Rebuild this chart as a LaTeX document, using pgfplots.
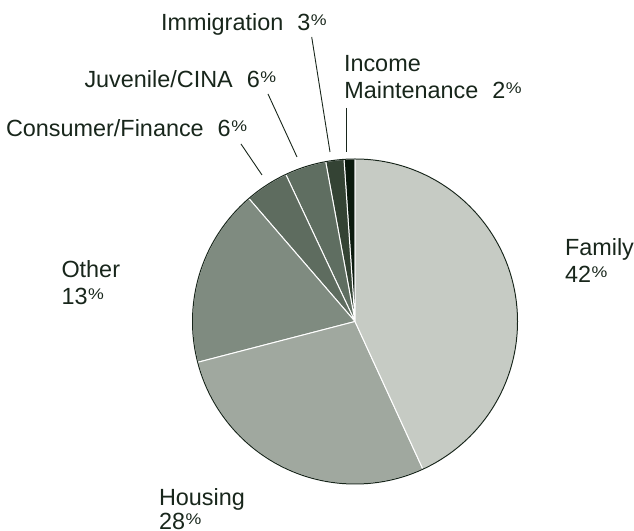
\documentclass[border=0pt]{standalone}
\usepackage{fontspec}
\setmainfont{Liberation Sans}
\usepackage{graphicx}
\usepackage{pgfplots}
\usepackage{pgfplotstable}
\pgfplotsset{compat=1.18}

\definecolor{ink}{HTML}{18261B}
\definecolor{slice0}{HTML}{0B1A0E} % Income Maintenance
\definecolor{slice1}{HTML}{344334} % Immigration
\definecolor{slice2}{HTML}{5F6E61} % Juvenile/CINA
\definecolor{slice3}{HTML}{5E6C5F} % Consumer/Finance
\definecolor{slice4}{HTML}{7F8B80} % Other
\definecolor{slice5}{HTML}{A0A89F} % Housing
\definecolor{slice6}{HTML}{C6CBC4} % Family

% drawn share of each slice (counter-clockwise from 12 o'clock) and printed label
\pgfplotstableread{
name         share  label
Income       1.08   2
Immigration  1.81   3
Juvenile     4.11   6
Consumer     4.33   6
Other        17.71  13
Housing      27.82  28
Family       43.14  42
}\slices

\newcommand{\pct}{\hspace{0.5bp}\raisebox{5.2bp}{\scalebox{1.15}[1.0]{\fontsize{15.5}{15.5}\selectfont\%}}}
\tikzset{lbl/.style={inner sep=0pt, outer sep=0pt, text=ink,
    font=\fontsize{23.5}{27}\selectfont, anchor=base west}}

\begin{document}
\begin{tikzpicture}
\begin{axis}[
  width=634bp, height=531bp,
  scale only axis,
  hide axis,
  clip=false,
  xmin=0, xmax=634,
  ymin=0, ymax=531,
]
  % slices
  \def\angA{90}
  \pgfplotsforeachungrouped \i in {0,...,6}{%
    \pgfplotstablegetelem{\i}{share}\of\slices
    \pgfmathsetmacro\angB{\angA+3.6*\pgfplotsretval}%
    \edef\cmd{\noexpand\fill[slice\i, draw=white, line width=1pt]
      (axis cs:355,209.5) -- ++(\angA:162.5bp)
      arc[start angle=\angA, end angle=\angB, radius=162.5bp] -- cycle;}%
    \cmd
    \global\let\angA\angB
  }
  \draw[ink, line width=1pt] (axis cs:355,209.5) circle[radius=162.5bp];

  % leader lines
  \draw[ink, line width=0.9pt] (axis cs:241,387) -- (axis cs:262,356);
  \draw[ink, line width=0.9pt] (axis cs:268,437) -- (axis cs:297,374);
  \draw[ink, line width=0.9pt] (axis cs:311.7,494) -- (axis cs:330,379);
  \draw[ink, line width=0.9pt] (axis cs:346.7,423) -- (axis cs:346.7,379);

  % labels
  \node[lbl] at (axis cs:161,500.3) {Immigration\hspace{14bp}3\pct};
  \node[lbl] at (axis cs:84.5,443) {Juvenile/CINA\hspace{14bp}6\pct};
  \node[lbl] at (axis cs:6,394) {Consumer/Finance\hspace{14bp}6\pct};
  \node[lbl] at (axis cs:344,459) {Income};
  \node[lbl] at (axis cs:344.3,432) {Maintenance\hspace{14bp}2\pct};
  \node[lbl] at (axis cs:61.5,253) {Other};
  \node[lbl] at (axis cs:61.5,226) {13\pct};
  \node[lbl] at (axis cs:565,275) {Family};
  \node[lbl] at (axis cs:565,248.3) {42\pct};
  \node[lbl] at (axis cs:159,26) {Housing};
  \node[lbl] at (axis cs:159,1.5) {28\pct};
\end{axis}
\pgfresetboundingbox
\useasboundingbox (0,0) rectangle (634bp,531bp);
\end{tikzpicture}
\end{document}
